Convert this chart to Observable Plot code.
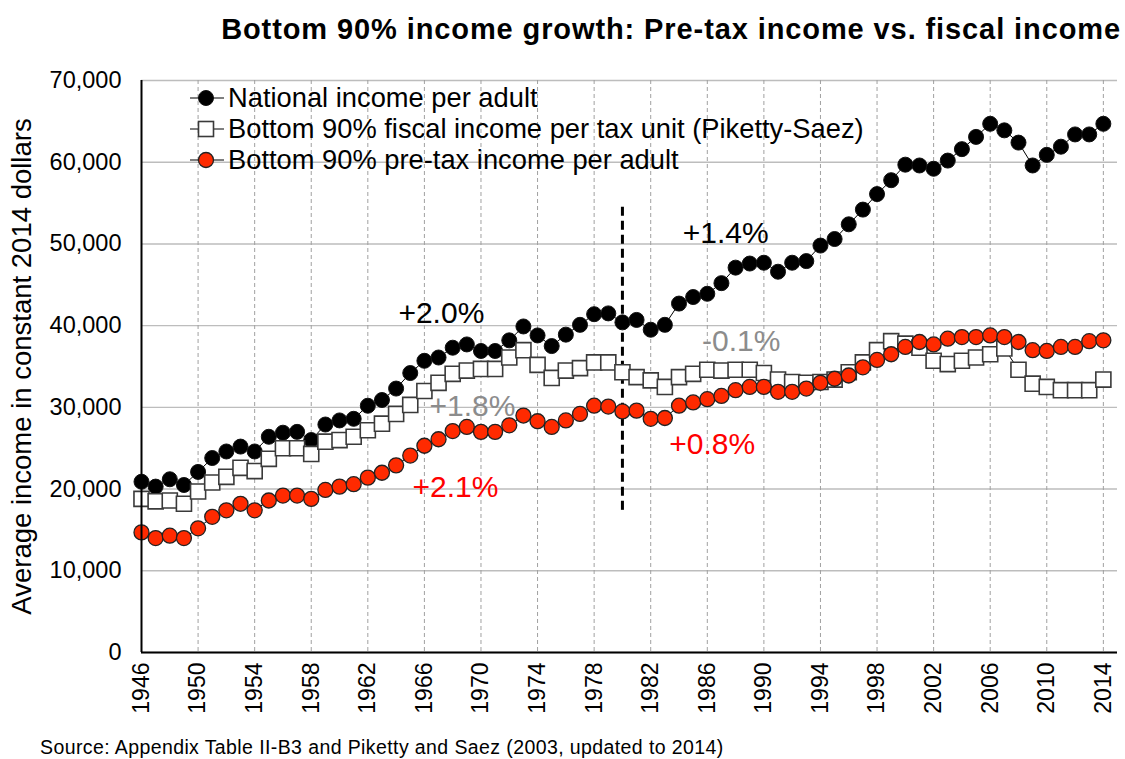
<!DOCTYPE html>
<html>
<head>
<meta charset="utf-8">
<script src="https://cdn.jsdelivr.net/npm/d3@7"></script>
<script src="https://cdn.jsdelivr.net/npm/@observablehq/plot@0.6"></script>
<style>
  body { margin: 0; background: #fff; font-family: "Liberation Sans", Arial, sans-serif; }
  #wrap { position: relative; width: 1125px; height: 759px; overflow: hidden; background: #fff; }
  #chart { position: absolute; left: 0; top: 0; }
  #title { position: absolute; right: 4px; top: 15px; font-size: 29px; letter-spacing: 0.9px; font-weight: bold; line-height: 1; color: #000; white-space: nowrap; }
  #caption { position: absolute; left: 40px; top: 738px; font-size: 19.5px; letter-spacing: 0.4px; line-height: 1; color: #000; white-space: nowrap; }
  #legend { position: absolute; left: 188px; top: 82px; }
  .row { display: flex; align-items: center; height: 31px; font-size: 27.3px; color: #000; white-space: nowrap; }
  .row svg { width: 38px; height: 30px; margin-right: 2px; flex: none; }
</style>
</head>
<body>
<div id="wrap">
  <div id="chart"></div>
  <div id="title">Bottom 90% income growth: Pre-tax income vs. fiscal income</div>
  <div id="legend"></div>
  <div id="caption">Source: Appendix Table II-B3 and Piketty and Saez (2003, updated to 2014)</div>
</div>
<script>
const years = [1946,1947,1948,1949,1950,1951,1952,1953,1954,1955,1956,1957,1958,1959,
  1960,1961,1962,1963,1964,1965,1966,1967,1968,1969,1970,1971,1972,1973,1974,1975,1976,1977,1978,1979,
  1980,1981,1982,1983,1984,1985,1986,1987,1988,1989,1990,1991,1992,1993,1994,1995,1996,1997,1998,1999,
  2000,2001,2002,2003,2004,2005,2006,2007,2008,2009,2010,2011,2012,2013,2014];

const nationalIncome = [20900,20300,21200,20500,22100,23800,24600,25200,24600,26400,26900,27000,26000,27900,
  28400,28600,30200,30900,32300,34200,35700,36100,37300,37700,36900,36900,38200,39900,38800,37500,38900,40100,41400,41500,
  40400,40700,39500,40100,42700,43500,43900,45200,47100,47600,47700,46600,47700,47900,49800,50600,52400,54200,56100,57800,
  59700,59600,59200,60200,61600,63100,64700,63900,62400,59600,60900,61900,63400,63400,64700];

const fiscalIncome = [18800,18500,18600,18200,19700,20800,21500,22600,22200,23700,25000,25000,24300,25800,
  26000,26400,27200,28000,29200,30300,32000,33000,34100,34500,34700,34700,36100,37000,35200,33600,34500,34800,35500,35500,
  34300,33700,33300,32500,33700,34100,34600,34500,34600,34600,34200,33400,33100,33000,33100,33400,34300,35500,37000,38100,
  37800,37300,35700,35300,35700,36100,36500,37200,34600,32900,32500,32100,32100,32100,33400];

const pretaxIncome = [14700,14000,14300,14000,15200,16600,17400,18200,17400,18600,19200,19200,18800,19900,
  20300,20600,21400,22000,22900,24100,25300,26100,27100,27600,27000,27000,27800,29000,28300,27600,28400,29200,30200,30100,
  29500,29600,28600,28700,30200,30600,31000,31400,32100,32500,32500,31900,31900,32300,33000,33500,33900,34900,35800,36500,
  37400,38000,37700,38400,38600,38600,38800,38600,38000,37000,36900,37400,37400,38100,38200];

const seriesNames = ["National income per adult",
  "Bottom 90% fiscal income per tax unit (Piketty-Saez)",
  "Bottom 90% pre-tax income per adult"];

const xTicks = [1946,1950,1954,1958,1962,1966,1970,1974,1978,1982,1986,1990,1994,1998,2002,2006,2010,2014];
const yTicks = [0,10000,20000,30000,40000,50000,60000,70000];
const yLabel = "Average income in constant 2014 dollars";

const annoLabels = ["+2.0%", "+1.8%", "+2.1%", "+1.4%", "-0.1%", "+0.8%"];
const annoYears  = [1967.2, 1969.4, 1968.2, 1987.3, 1988.4, 1986.35];
const annoValues = [41500, 30100, 20230, 51300, 38100, 25430];
const annoColors = ["#000000", "#8c8c8c", "#ff0000", "#000000", "#8c8c8c", "#ff0000"];

const breakYear = [1980];
const breakRange = [17400, 54900];

const rows = years.map((year, i) => ({year, nat: nationalIncome[i], fis: fiscalIncome[i], pre: pretaxIncome[i]}));
const annos = annoLabels.map((label, i) => ({label, year: annoYears[i], value: annoValues[i], color: annoColors[i]}));

const RED = "#ff2a00";

const chart = Plot.plot({
  width: 1125, height: 759,
  marginTop: 80, marginBottom: 107, marginLeft: 141, marginRight: 8,
  style: {fontFamily: "'Liberation Sans', Arial, sans-serif", background: "transparent", color: "#000"},
  x: {domain: [1946, 2015]},
  y: {domain: [0, 70000]},
  color: {type: "identity"},
  marks: [
    Plot.gridY(yTicks, {stroke: "#bdbdbd", strokeOpacity: 1, strokeWidth: 1.4}),
    Plot.gridX(xTicks.filter(t => t > 1946), {stroke: "#a0a0a0", strokeOpacity: 1, strokeWidth: 1, strokeDasharray: "4,3"}),
    Plot.axisY(yTicks, {tickSize: 0, tickPadding: 20, tickFormat: d3.format(","), fontSize: 23.5, label: null}),
    Plot.axisX(xTicks, {tickSize: 0, tickRotate: -90, tickPadding: 10, tickFormat: "d", fontSize: 23, label: null}),
    Plot.text([yLabel], {frameAnchor: "left", dx: -119, rotate: -90, textAnchor: "middle", lineAnchor: "middle", fontSize: 27.5, fill: "#000"}),
    Plot.ruleX(breakYear, {y1: breakRange[0], y2: breakRange[1], stroke: "#000", strokeWidth: 3, strokeDasharray: "9,5"}),
    Plot.lineY(rows, {x: "year", y: "nat", stroke: "#000", strokeWidth: 1}),
    Plot.dot(rows, {x: "year", y: "nat", r: 7.5, fill: "#000", stroke: "#111", strokeWidth: 1}),
    Plot.lineY(rows, {x: "year", y: "fis", stroke: "#000", strokeWidth: 1}),
    Plot.dot(rows, {x: "year", y: "fis", symbol: "square", r: 8.5, fill: "#fff", stroke: "#3a3a3a", strokeWidth: 1.6}),
    Plot.lineY(rows, {x: "year", y: "pre", stroke: "#000", strokeWidth: 1}),
    Plot.dot(rows, {x: "year", y: "pre", r: 7.5, fill: RED, stroke: "#222", strokeWidth: 1.3}),
    Plot.ruleY([0], {stroke: "#000", strokeWidth: 2}),
    Plot.ruleX([1946], {stroke: "#000", strokeWidth: 2}),
    Plot.text(annos, {x: "year", y: "value", text: "label", fill: "color", fontSize: 30, textAnchor: "middle", lineAnchor: "middle"})
  ]
});
document.getElementById("chart").appendChild(chart);

// Legend
const legendMarkers = [
  '<circle cx="18" cy="15" r="7.5" fill="#000" stroke="#111"/>',
  '<rect x="10.5" y="7.5" width="15" height="15" fill="#fff" stroke="#3a3a3a" stroke-width="1.6"/>',
  '<circle cx="18" cy="15" r="7.5" fill="' + RED + '" stroke="#222" stroke-width="1.3"/>'
];
const legend = document.getElementById("legend");
seriesNames.forEach((name, i) => {
  const row = document.createElement("div");
  row.className = "row";
  row.innerHTML = '<svg viewBox="0 0 38 30"><line x1="2" y1="15" x2="36" y2="15" stroke="#000" stroke-width="1.2"/>' +
    legendMarkers[i] + '</svg><span>' + name + '</span>';
  legend.appendChild(row);
});
</script>
</body>
</html>
